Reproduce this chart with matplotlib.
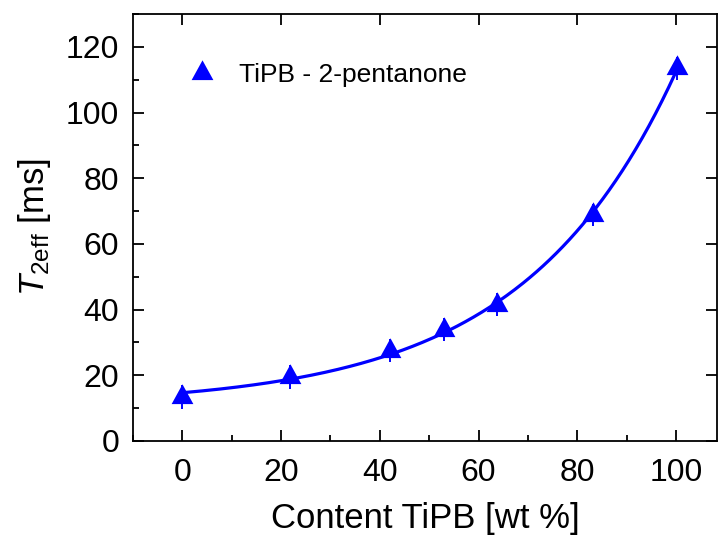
import numpy as np
import matplotlib
matplotlib.use("Agg")
import matplotlib.pyplot as plt
from matplotlib.path import Path
from matplotlib.ticker import MultipleLocator

plt.rcParams['font.family'] = ['Liberation Sans', 'DejaVu Sans']
plt.rcParams['mathtext.fontset'] = 'custom'
plt.rcParams['mathtext.rm'] = 'Liberation Sans'
plt.rcParams['mathtext.it'] = 'Liberation Sans:italic'

# Data
content = [0.0, 21.9, 42.1, 53.0, 63.8, 83.1, 100.2]
t2eff = [13.4, 19.4, 27.5, 33.8, 41.5, 68.8, 113.5]
t2err = [3.6, 3.6, 3.6, 3.5, 3.5, 3.3, 3.5]
series_label = 'TiPB - 2-pentanone'
xticks = [0, 20, 40, 60, 80, 100]
yticks = [0, 20, 40, 60, 80, 100, 120]

x = np.array(content)
y = np.array(t2eff)

# Exponential fit y = y0 + A*exp(x/t), by grid search on t and linear least squares
best = None
for t in np.linspace(5, 100, 1901):
    M = np.column_stack([np.ones_like(x), np.exp(x / t)])
    coef, res, *_ = np.linalg.lstsq(M, y, rcond=None)
    r = np.sum((M @ coef - y) ** 2)
    if best is None or r < best[0]:
        best = (r, t, coef)
_, tfit, (y0fit, Afit) = best
xf = np.linspace(x.min(), x.max(), 300)
yf = y0fit + Afit * np.exp(xf / tfit)

blue = '#0000FF'
tri = Path([(0, 1), (-0.825, -0.5), (0.825, -0.5), (0, 1)],
           [Path.MOVETO, Path.LINETO, Path.LINETO, Path.CLOSEPOLY])

fig = plt.figure(figsize=(7.2, 5.37), dpi=100)
ax = fig.add_axes([133 / 720, 1 - 441 / 537, (717 - 133) / 720, (441 - 14) / 537])

ax.plot(xf, yf, color=blue, lw=2.3, zorder=2)
ax.errorbar(x, y, yerr=t2err, fmt='none', ecolor=blue, elinewidth=1.4, capsize=0, zorder=3)
ax.plot(x, y, linestyle='none', marker=tri, markersize=19, color=blue,
        markeredgewidth=0, zorder=4, label=series_label)

ax.set_xlim(-10, 108.3)
ax.set_ylim(0, 130)
ax.set_xticks(xticks)
ax.set_yticks(yticks)
ax.xaxis.set_minor_locator(MultipleLocator(10))
ax.yaxis.set_minor_locator(MultipleLocator(10))

ax.tick_params(which='major', direction='in', length=8, width=1.3, labelsize=23)
ax.tick_params(axis='x', which='major', pad=12)
ax.tick_params(axis='y', which='major', pad=10)
ax.tick_params(which='minor', direction='in', length=4.5, width=1.3)
ax.tick_params(axis='x', which='major', top=True)
ax.tick_params(axis='y', which='major', right=True)
for s in ax.spines.values():
    s.set_linewidth(1.3)

ax.set_xlabel('Content TiPB [wt %]', fontsize=25, labelpad=10)
ax.set_ylabel(r'$T_{\rm 2eff}$ [ms]', fontsize=25, labelpad=9)

ax.legend(loc='upper left', bbox_to_anchor=(0.055, 0.94), frameon=False, fontsize=19,
          handlelength=1.0, handletextpad=0.9, markerscale=1.0)

fig.savefig('out.png', dpi=100)
